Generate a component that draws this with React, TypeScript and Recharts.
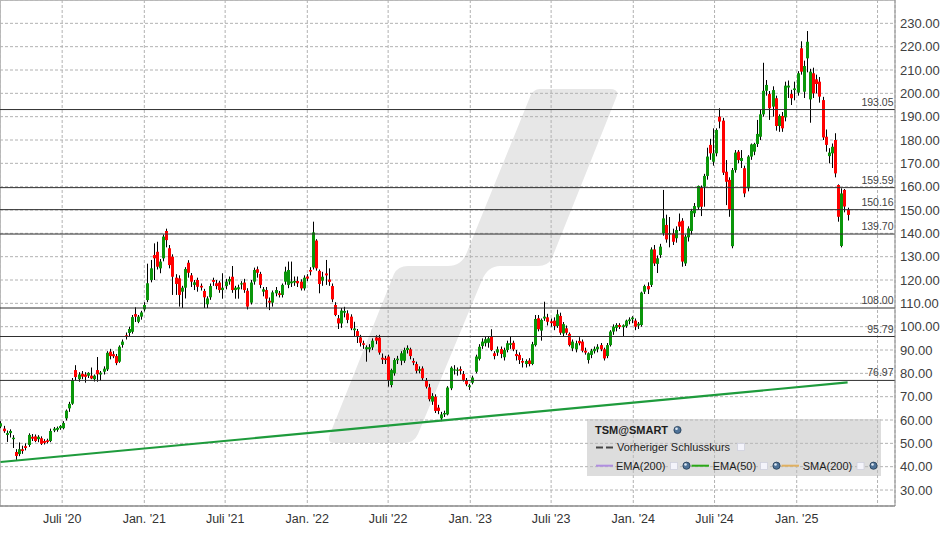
import React from 'react';
import { ComposedChart, Bar, Line, XAxis, YAxis, CartesianGrid, ReferenceLine } from 'recharts';

// weekly candles, [open, high, low, close]; first week = 14 Feb 2020
const FIRST_WEEK_DAY = 44; // days after 1 Jan 2020

const candles2020 = [
  [57.2, 59.5, 56.5, 58.6], [56.3, 57.5, 54.5, 55.2], [53.6, 55.5, 50.6, 54.4], [54.4, 56.0, 52.5, 55.3],
  [51.8, 53.5, 48.0, 52.4], [46.3, 47.5, 42.9, 44.6], [45.4, 50.4, 44.5, 47.5], [47.5, 49.0, 45.5, 46.7],
  [48.8, 50.0, 47.0, 48.0], [49.3, 54.3, 48.5, 53.6], [52.8, 54.0, 51.0, 52.0], [53.0, 53.8, 50.5, 51.0],
  [51.8, 53.5, 50.5, 52.8], [52.2, 53.0, 49.3, 49.8], [51.0, 51.8, 49.5, 50.2], [51.3, 52.0, 50.0, 50.6],
  [51.0, 56.3, 50.5, 55.3], [55.5, 57.0, 54.8, 56.3], [55.8, 57.2, 55.0, 56.6], [56.5, 57.8, 55.8, 57.4],
  [56.5, 59.5, 56.0, 58.7], [60.7, 64.5, 59.8, 64.0], [65.0, 67.8, 63.5, 66.9], [67.0, 78.0, 66.5, 77.0],
  [81.4, 83.5, 77.0, 78.4], [77.5, 80.5, 76.4, 79.5], [79.8, 81.0, 77.5, 78.6], [79.5, 80.5, 76.0, 78.5],
  [79.0, 80.5, 78.0, 80.2], [79.0, 82.5, 77.5, 77.8], [77.5, 79.5, 76.5, 79.0], [81.4, 87.0, 76.4, 79.6],
  [79.5, 81.0, 76.8, 80.3], [80.7, 83.0, 79.5, 82.0], [81.7, 89.5, 81.0, 88.8], [89.3, 90.5, 86.0, 87.4],
  [88.2, 89.5, 86.5, 87.3], [87.4, 88.3, 83.5, 84.4], [85.0, 92.0, 84.5, 91.4], [92.2, 94.5, 91.0, 93.6],
  [96.3, 97.5, 94.5, 95.6], [97.3, 100.0, 96.0, 99.0], [97.8, 105.0, 97.0, 104.1], [105.4, 108.3, 102.0, 104.3],
  [102.1, 105.0, 101.5, 104.3], [104.3, 106.8, 103.0, 106.1],
];

const candles2021 = [
  [107.4, 110.5, 106.5, 109.3], [111.4, 127.0, 110.5, 118.6], [120.0, 128.6, 119.0, 125.0], [130.7, 135.7, 120.0, 129.3],
  [132.1, 136.4, 124.5, 125.7], [125.0, 129.0, 122.9, 127.9], [129.3, 139.5, 128.0, 138.6], [141.0, 142.0, 134.0, 137.1],
  [133.6, 135.0, 125.0, 126.4], [130.0, 131.0, 113.6, 121.4], [121.0, 122.5, 113.6, 118.3], [120.7, 122.0, 108.6, 113.6],
  [115.0, 117.5, 108.0, 116.7], [116.7, 125.5, 112.1, 124.7], [127.4, 128.5, 121.0, 123.1], [122.0, 123.0, 117.0, 119.3],
  [117.9, 120.0, 115.7, 119.0], [120.0, 121.0, 115.0, 117.1], [117.5, 118.5, 115.5, 116.8], [115.3, 116.2, 108.0, 112.6],
  [109.6, 113.0, 108.0, 112.1], [112.6, 118.5, 111.5, 117.4], [120.0, 121.0, 117.5, 119.2], [118.6, 120.0, 116.0, 117.4],
  [118.9, 119.7, 114.5, 115.7], [115.7, 122.9, 112.0, 116.7], [117.4, 120.5, 116.0, 119.3], [119.4, 121.5, 118.0, 120.4],
  [121.4, 126.0, 114.5, 115.7], [115.7, 117.5, 112.0, 116.7], [116.0, 118.0, 112.0, 116.9], [118.1, 119.5, 116.0, 118.6],
  [118.9, 120.5, 114.5, 115.7], [115.4, 116.5, 107.4, 108.6], [110.3, 120.0, 109.5, 118.9], [119.3, 125.3, 118.0, 124.3],
  [124.6, 125.8, 121.0, 123.1], [122.6, 123.5, 116.5, 117.9], [115.0, 117.0, 113.0, 116.0], [115.7, 117.0, 108.3, 112.0],
  [111.1, 112.5, 107.1, 110.3], [110.3, 115.5, 108.6, 114.7], [114.3, 117.0, 113.0, 115.7], [114.3, 115.3, 112.5, 113.6],
  [113.6, 118.5, 112.5, 117.9], [119.3, 125.7, 118.0, 123.6], [117.9, 127.9, 116.5, 124.3], [118.6, 127.9, 117.0, 119.4],
  [118.9, 121.5, 117.5, 119.6], [119.6, 121.5, 117.0, 118.6], [119.3, 120.3, 115.5, 116.4], [116.4, 122.0, 115.5, 121.0],
];

const candles2022 = [
  [121.5, 122.5, 119.5, 120.6], [124.3, 125.5, 122.0, 123.6], [125.4, 145.0, 124.5, 140.4], [136.9, 137.5, 124.0, 125.0],
  [123.9, 124.5, 114.3, 118.3], [119.7, 123.5, 117.5, 121.4], [122.8, 128.6, 117.9, 122.0], [120.2, 125.0, 117.5, 119.2],
  [117.4, 118.5, 110.5, 111.7], [109.3, 110.5, 104.5, 105.0], [103.6, 105.0, 99.0, 101.4], [101.4, 108.0, 99.5, 106.9],
  [106.0, 108.5, 104.0, 106.7], [105.7, 107.0, 101.5, 102.9], [104.3, 105.3, 98.5, 99.3], [98.5, 102.1, 96.0, 99.2],
  [98.1, 99.0, 93.0, 95.7], [95.4, 96.5, 91.5, 93.1], [92.9, 94.0, 90.5, 92.2], [90.3, 92.0, 85.0, 91.2],
  [90.3, 92.5, 89.0, 91.2], [91.1, 95.0, 90.0, 94.0], [95.4, 96.3, 92.5, 94.0], [95.3, 96.5, 88.0, 88.9],
  [86.7, 88.5, 84.0, 85.9], [86.4, 87.5, 84.0, 85.7], [87.2, 88.0, 74.3, 77.1], [75.0, 82.0, 74.0, 81.4],
  [80.0, 86.5, 79.0, 85.7], [85.6, 87.5, 84.0, 86.3], [85.4, 89.5, 83.5, 88.6], [85.4, 91.0, 84.5, 90.0],
  [90.0, 92.0, 88.5, 90.9], [90.3, 91.0, 86.0, 87.4], [85.3, 86.5, 83.5, 84.6], [84.0, 85.0, 80.0, 81.1],
  [81.1, 83.0, 80.0, 81.8], [82.1, 83.0, 77.0, 77.9], [76.9, 78.0, 73.5, 74.3], [74.0, 75.5, 68.0, 68.9],
  [67.9, 71.5, 66.5, 70.3], [70.0, 71.0, 63.0, 63.9], [65.3, 66.5, 62.5, 63.9], [60.7, 63.5, 59.5, 62.4],
  [62.4, 64.0, 61.3, 63.0], [62.4, 74.5, 62.0, 73.9], [73.6, 83.0, 72.8, 82.4], [81.2, 83.5, 79.5, 81.7],
  [81.1, 82.5, 79.0, 81.6], [81.8, 83.0, 79.5, 81.1], [79.7, 81.0, 76.5, 77.2], [77.1, 78.0, 74.5, 75.3],
];

const candles2023 = [
  [74.2, 75.5, 72.9, 74.8], [76.0, 79.0, 75.3, 78.2], [80.7, 88.0, 80.0, 87.2], [86.2, 92.5, 85.5, 91.4],
  [91.7, 95.0, 90.5, 93.6], [92.9, 96.0, 91.5, 94.6], [93.1, 96.0, 91.0, 95.0], [95.7, 98.9, 89.5, 90.0],
  [88.6, 89.5, 86.0, 87.4], [88.9, 91.5, 87.5, 90.3], [90.4, 91.5, 86.5, 88.3], [86.9, 91.0, 85.5, 90.0],
  [90.0, 94.0, 89.0, 92.9], [92.2, 95.7, 90.5, 92.9], [93.1, 94.0, 89.5, 90.3], [88.3, 90.0, 85.5, 87.4],
  [87.9, 89.0, 84.0, 85.7], [85.3, 86.5, 82.5, 84.6], [84.0, 86.0, 82.5, 85.3], [85.5, 86.5, 83.0, 84.0],
  [84.0, 93.5, 83.5, 92.5], [92.1, 105.0, 91.5, 103.3], [103.6, 105.0, 98.0, 98.9], [98.3, 103.5, 94.0, 102.9],
  [103.5, 110.7, 102.5, 104.3], [104.0, 105.5, 100.5, 102.1], [102.3, 103.5, 100.0, 101.5], [102.6, 104.0, 98.5, 100.3],
  [100.3, 107.3, 99.5, 105.3], [104.6, 106.0, 96.5, 97.4], [97.1, 102.0, 96.0, 101.1], [99.3, 100.5, 96.5, 97.4],
  [96.9, 97.5, 91.5, 92.1], [90.7, 94.5, 89.5, 93.6], [90.3, 94.0, 89.0, 92.9], [93.9, 95.5, 92.0, 92.9],
  [93.6, 94.5, 89.0, 89.7], [89.7, 91.0, 88.0, 88.9], [85.7, 89.0, 84.2, 88.6], [87.9, 90.5, 86.5, 89.7],
  [89.5, 91.5, 88.5, 90.5], [90.3, 92.5, 89.0, 91.4], [92.1, 93.0, 89.5, 90.3], [90.3, 91.0, 85.5, 86.4],
  [87.4, 93.0, 86.5, 92.1], [92.1, 98.5, 91.5, 97.9], [97.9, 101.0, 96.5, 100.0], [99.5, 101.5, 98.0, 100.7],
  [100.7, 101.5, 99.0, 99.9], [99.8, 101.0, 96.0, 100.6], [100.3, 103.0, 99.5, 102.6], [102.4, 104.0, 101.0, 103.1],
];

const candles2024 = [
  [103.2, 104.5, 101.5, 103.9], [102.6, 103.5, 98.5, 100.0], [100.5, 102.0, 99.0, 101.3], [100.7, 115.0, 100.0, 114.6],
  [115.0, 118.0, 114.0, 117.4], [117.4, 119.0, 114.0, 116.0], [117.9, 134.0, 117.0, 133.1], [133.1, 135.0, 126.0, 127.1],
  [126.9, 130.5, 123.0, 129.3], [130.7, 135.5, 129.5, 134.3], [140.0, 158.6, 139.0, 146.4], [143.6, 148.0, 136.0, 137.4],
  [139.7, 147.0, 134.0, 140.0], [140.0, 142.0, 135.0, 136.4], [137.9, 143.0, 136.0, 141.4], [145.0, 148.5, 141.0, 142.9],
  [145.4, 146.5, 125.7, 127.9], [127.1, 139.5, 126.0, 138.6], [138.3, 143.0, 136.5, 142.1], [141.0, 150.5, 139.5, 149.6],
  [148.6, 153.0, 147.0, 151.7], [151.1, 160.5, 150.0, 160.3], [159.7, 160.5, 147.4, 151.4], [160.0, 165.5, 151.4, 164.6],
  [164.6, 176.7, 163.0, 172.9], [177.9, 180.5, 171.5, 174.3], [170.7, 185.0, 169.0, 174.3], [174.3, 185.0, 173.0, 184.3],
  [190.0, 193.6, 185.0, 187.9], [188.3, 189.5, 165.0, 166.0], [166.4, 171.4, 152.1, 162.1], [162.9, 164.0, 147.1, 150.3],
  [134.5, 168.0, 133.6, 167.1], [167.1, 175.7, 166.0, 174.6], [175.0, 175.7, 170.0, 171.4], [171.0, 175.7, 168.0, 172.3],
  [167.9, 169.0, 155.5, 157.1], [159.3, 173.5, 158.0, 172.9], [172.9, 178.5, 171.5, 178.1], [175.0, 178.8, 173.5, 178.3],
  [178.3, 188.6, 177.0, 182.6], [181.4, 192.9, 180.0, 191.0], [191.0, 213.1, 190.0, 201.1], [201.1, 205.7, 199.0, 203.6],
  [199.7, 201.0, 188.6, 193.6], [194.3, 203.0, 190.0, 201.4], [197.9, 199.0, 184.0, 186.0], [186.0, 191.0, 183.5, 190.3],
  [190.3, 192.0, 183.5, 185.0], [189.7, 205.0, 188.0, 203.3], [202.5, 205.5, 198.0, 203.3], [199.7, 201.5, 195.0, 197.9],
];

const candles2025 = [
  [201.4, 205.0, 197.0, 202.1], [200.3, 209.5, 199.0, 208.6], [219.3, 222.3, 208.0, 209.3], [200.7, 214.0, 198.0, 211.7],
  [215.0, 226.7, 209.0, 222.1], [197.4, 210.5, 187.4, 209.3], [208.6, 211.0, 198.0, 200.0], [206.0, 208.0, 200.0, 204.0],
  [205.0, 207.0, 196.0, 198.6], [197.1, 198.5, 180.0, 181.1], [181.4, 184.5, 175.0, 177.9], [173.1, 176.5, 170.0, 174.6],
  [174.3, 178.5, 168.0, 177.1], [180.0, 182.9, 164.0, 165.7], [160.7, 161.0, 145.0, 147.1], [134.6, 159.3, 134.0, 157.1],
  [158.6, 159.0, 149.0, 151.5], [150.0, 151.0, 145.5, 147.9],
];

// horizontal support / resistance levels
const levels = [193.05, 159.59, 150.16, 139.7, 108.0, 95.79, 76.97];

// trend line: value at first and at last candle
const trendStart = 42.0;
const trendEnd = 76.1;

const yTicks = [30, 40, 50, 60, 70, 80, 90, 100, 110, 120, 130, 140, 150, 160, 170, 180, 190, 200, 210, 220, 230];
// day offsets (from 1 Jan 2020) of the half-year ticks
const xTicks = [182, 366, 547, 731, 912, 1096, 1277, 1461, 1643, 1827, 2008];
const xTickLabels = ["Juli '20", "Jan. '21", "Juli '21", "Jan. '22", "Juli '22", "Jan. '23", "Juli '23", "Jan. '24", "Juli '24", "Jan. '25", ''];

const allCandles = [...candles2020, ...candles2021, ...candles2022, ...candles2023, ...candles2024, ...candles2025];

const data = allCandles.map(([o, h, l, c], i) => ({
  t: FIRST_WEEK_DAY + 7 * i,
  o,
  h,
  l,
  c,
  range: [l, h],
  trend: i === 0 ? trendStart : i === allCandles.length - 1 ? trendEnd : null,
}));

const FONT = "Arial, 'Liberation Sans', sans-serif";

function Candle(props: any) {
  const { x, y, width, height, payload } = props;
  if (!payload || height == null) return null;
  const { o, h, l, c } = payload;
  const span = h - l || 1;
  const py = (v: number) => y + ((h - v) / span) * height;
  const cx = Math.round(x + width / 2);
  const top = py(Math.max(o, c));
  const bot = py(Math.min(o, c));
  return (
    <g>
      <line x1={cx + 0.5} x2={cx + 0.5} y1={y} y2={y + height} stroke="#000" strokeWidth={1} />
      <rect x={cx - 1} y={top} width={3} height={Math.max(1, bot - top)} fill={c >= o ? '#0a960a' : '#ff0000'} />
    </g>
  );
}

function LevelLabel({ viewBox, value }: any) {
  if (!viewBox) return null;
  return (
    <text x={viewBox.x + viewBox.width - 1.5} y={viewBox.y - 4} textAnchor="end" fontSize={10.5} fontFamily={FONT} fill="#444">
      {value.toFixed(2)}
    </text>
  );
}

function Globe({ cx, cy }: { cx: number; cy: number }) {
  return (
    <g>
      <circle cx={cx} cy={cy} r={3.6} fill="#4f7398" stroke="#1f3852" strokeWidth={0.8} />
      <circle cx={cx - 1} cy={cy - 1.2} r={1.3} fill="#dfe8f2" />
    </g>
  );
}

function CheckBox({ x, y }: { x: number; y: number }) {
  return <rect x={x + 0.5} y={y + 0.5} width={7} height={7} fill="#f4f4fb" stroke="#cfd0dd" strokeWidth={0.8} />;
}

export default function App() {
  return (
    <div style={{ position: 'absolute', left: 0, top: 0, width: 948, height: 534, background: '#fff', overflow: 'hidden' }}>
      {/* watermark behind the plot */}
      <svg width={948} height={534} style={{ position: 'absolute', left: 0, top: 0 }}>
        <path
          d="M540 89 L610 89 Q620 89 616 98 L552 258 Q548 266 538 266 L500 266 Q488 266 482 280 L418 434 Q414 443 404 443 L336 443 Q326 443 330 434 L394 274 Q398 266 408 266 L448 266 Q462 266 467 252 L530 97 Q533 89 540 89 Z"
          fill="#e7e7e7"
        />
        <line x1={0} x2={895} y1={0.5} y2={0.5} stroke="#bdbdbd" />
        <line x1={0.5} x2={0.5} y1={0} y2={506} stroke="#bdbdbd" />
      </svg>
      <div style={{ position: 'absolute', left: 0, top: 0 }}>
        <ComposedChart width={948} height={534} data={data} margin={{ top: 0, right: 0, bottom: 0, left: 0 }}>
          <CartesianGrid strokeDasharray="3 2" stroke="#b2b2b2" />
          <XAxis
            dataKey="t"
            type="number"
            domain={[42.8, 2047.1]}
            allowDataOverflow
            ticks={xTicks}
            tickFormatter={(v: number) => xTickLabels[xTicks.indexOf(v)] ?? ''}
            height={28}
            tickLine={false}
            tickSize={0}
            tickMargin={8.5}
            axisLine={{ stroke: '#8c8c8c', strokeWidth: 1.5 }}
            tick={{ fontSize: 12.5, fontFamily: FONT, fill: '#333' }}
          />
          <YAxis
            orientation="right"
            type="number"
            domain={[23.15, 240]}
            allowDataOverflow
            ticks={yTicks}
            tickFormatter={(v: number) => v.toFixed(2)}
            width={53}
            tickLine={false}
            tickSize={0}
            tickMargin={5}
            axisLine={{ stroke: '#8c8c8c' }}
            tick={{ fontSize: 13, fontFamily: FONT, fill: '#404040', textAnchor: 'start' }}
          />
          {levels.map((v) => (
            <ReferenceLine key={v} y={v} stroke="#2f2f2f" strokeWidth={1} label={<LevelLabel value={v} />} />
          ))}
          <Line
            dataKey="trend"
            stroke="#1e9b3c"
            strokeWidth={2.2}
            dot={false}
            activeDot={false}
            connectNulls
            isAnimationActive={false}
          />
          <Bar dataKey="range" barSize={3} shape={(p: any) => <Candle {...p} />} isAnimationActive={false} />
        </ComposedChart>
      </div>
      {/* legend box */}
      <svg width={948} height={534} style={{ position: 'absolute', left: 0, top: 0, pointerEvents: 'none' }}>
        <rect x={587} y={419} width={294} height={57} fill="rgba(190,190,190,0.52)" />
        <g fontFamily={FONT} fontSize={11} fill="#1e1e1e">
          <text x={595} y={434} fontWeight="bold">TSM@SMART</text>
          <Globe cx={677.5} cy={430} />
          <line x1={596} x2={613.5} y1={447.5} y2={447.5} stroke="#444" strokeWidth={2} strokeDasharray="7 3" />
          <text x={617} y={451}>Vorheriger Schlusskurs</text>
          <CheckBox x={737} y={443} />
          <line x1={596} x2={613} y1={465.7} y2={465.7} stroke="#b08ee0" strokeWidth={2} />
          <text x={616} y={469.5}>EMA(200)</text>
          <CheckBox x={670} y={462} />
          <Globe cx={686.5} cy={465.7} />
          <line x1={691.5} x2={709} y1={465.7} y2={465.7} stroke="#2aa816" strokeWidth={2} />
          <text x={712.7} y={469.5}>EMA(50)</text>
          <CheckBox x={760} y={462} />
          <Globe cx={776.5} cy={465.7} />
          <line x1={781.5} x2={799} y1={465.7} y2={465.7} stroke="#e0b060" strokeWidth={2} />
          <text x={802.7} y={469.5}>SMA(200)</text>
          <CheckBox x={856.5} y={462} />
          <Globe cx={873.5} cy={465.7} />
        </g>
      </svg>
    </div>
  );
}
